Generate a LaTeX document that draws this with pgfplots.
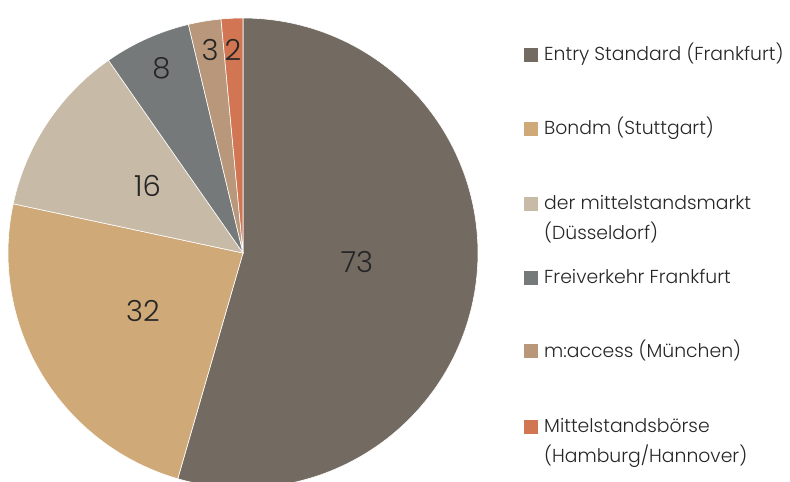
\documentclass[border=0pt]{standalone}
\usepackage{pgfplots}
\pgfplotsset{compat=1.18}
\usepackage{fontspec}
\setmainfont{Poppins}[UprightFont=* Light]
\definecolor{cA}{HTML}{736A62}
\definecolor{cB}{HTML}{CFA977}
\definecolor{cC}{HTML}{C7BAA7}
\definecolor{cD}{HTML}{76797A}
\definecolor{cE}{HTML}{B9977A}
\definecolor{cF}{HTML}{D17552}
% values: 73, 32, 16, 8, 3, 2 (total 134)
\newcommand{\slice}[3]{%
  \addplot[fill=#1, draw=white, line width=0.6pt, domain=0:1, samples=150, variable=\t]
    ({243+235*cos(90-360*(#2+\t*#3)/134)},{229+235*sin(90-360*(#2+\t*#3)/134)})
    -- (axis cs:243,229) -- cycle;}
\begin{document}
\begin{tikzpicture}
\begin{axis}[
  scale only axis, width=790pt, height=482pt,
  xmin=0, xmax=790, ymin=0, ymax=482,
  hide axis, clip=true,
]
\path (rel axis cs:0,0) rectangle (rel axis cs:1,1);
\slice{cA}{0}{73}
\slice{cB}{73}{32}
\slice{cC}{105}{16}
\slice{cD}{121}{8}
\slice{cE}{129}{3}
\slice{cF}{132}{2}
% legend squares
\addplot[only marks, mark=square*, mark size=6.5pt, color=cA] coordinates {(531,427.5)};
\addplot[only marks, mark=square*, mark size=6.5pt, color=cB] coordinates {(531,353)};
\addplot[only marks, mark=square*, mark size=6.5pt, color=cC] coordinates {(531,278.5)};
\addplot[only marks, mark=square*, mark size=6.5pt, color=cD] coordinates {(531,204.5)};
\addplot[only marks, mark=square*, mark size=6.5pt, color=cE] coordinates {(531,131)};
\addplot[only marks, mark=square*, mark size=6.5pt, color=cF] coordinates {(531,55.5)};
% legend texts
\begin{scope}[every node/.style={anchor=base west, inner sep=0pt, font=\fontsize{18.8}{22}\selectfont, text=black!85}]
\node at (axis cs:544,421) {Entry Standard (Frankfurt)};
\node at (axis cs:544,347) {Bondm (Stuttgart)};
\node at (axis cs:544,272) {der mittelstandsmarkt};
\node at (axis cs:544,242) {(Düsseldorf)};
\node at (axis cs:544,198) {Freiverkehr Frankfurt};
\node at (axis cs:544,124) {m:access (München)};
\node at (axis cs:544,49) {Mittelstandsbörse};
\node at (axis cs:544,20) {(Hamburg/Hannover)};
\end{scope}
% slice values
\begin{scope}[every node/.style={anchor=center, inner sep=0pt, font=\fontsize{29}{32}\selectfont, text=black!85}]
\node at (axis cs:357,220) {73};
\node at (axis cs:143,171) {32};
\node at (axis cs:147.5,296) {16};
\node at (axis cs:161.5,414) {8};
\node at (axis cs:210,432) {3};
\node at (axis cs:233,432) {2};
\end{scope}
\end{axis}
\end{tikzpicture}
\end{document}
